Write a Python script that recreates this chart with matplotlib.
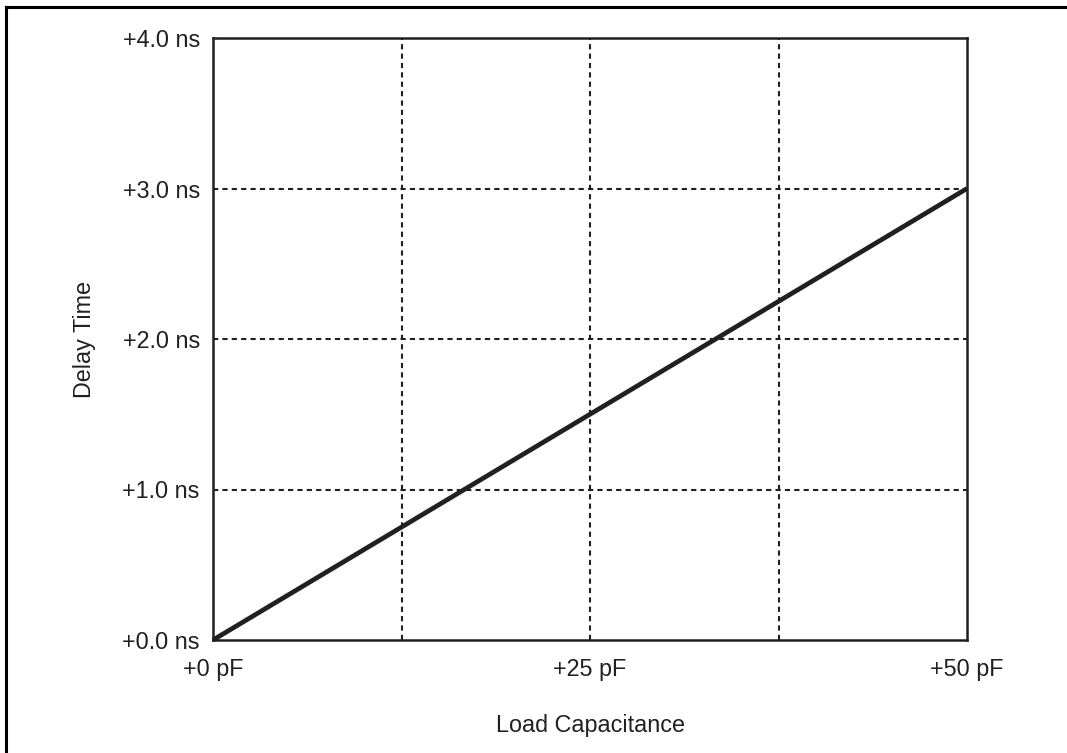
import matplotlib.pyplot as plt
from matplotlib.lines import Line2D

plt.rcParams['font.family'] = ['Liberation Sans', 'DejaVu Sans']

# data
load_pf = [0, 50]
delay_ns = [0.0, 3.0]
x_ticks = [0, 25, 50]
x_labels = ['+0 pF', '+25 pF', '+50 pF']
x_grid = [12.5, 25, 37.5]
y_ticks = [0, 1, 2, 3, 4]
y_labels = ['+0.0 ns', '+1.0 ns', '+2.0 ns', '+3.0 ns', '+4.0 ns']

ink = '#231f20'
fs = 16.8

fig = plt.figure(figsize=(10.67, 7.53), dpi=100)
ax = fig.add_axes([213 / 1067, 1 - 640 / 753, (967 - 213) / 1067, (640 - 38) / 753])

for xv in x_grid:
    ax.axvline(xv, color=ink, lw=1.5, ls=(0, (2.5, 2)), zorder=1)
for yv in y_ticks[1:-1]:
    ax.axhline(yv, color=ink, lw=1.5, ls=(0, (2.5, 2)), zorder=1)

ax.plot(load_pf, delay_ns, color=ink, lw=3.4, solid_capstyle='butt', zorder=3, clip_on=False)

ax.set_xlim(0, 50)
ax.set_ylim(0, 4)
ax.set_xticks(x_ticks, x_labels)
ax.set_yticks(y_ticks, y_labels)
ax.tick_params(length=0, labelsize=fs, colors=ink)
ax.tick_params(axis='y', pad=9.5)
ax.tick_params(axis='x', pad=13)
for s in ax.spines.values():
    s.set_linewidth(1.8)
    s.set_color(ink)

ax.set_xlabel('Load Capacitance', fontsize=fs, color=ink, labelpad=24)
ax.set_ylabel('Delay Time', fontsize=fs, color=ink, labelpad=19)

# outer frame (top and left edges only)
fig.add_artist(Line2D([6 / 1067, 6 / 1067], [0, 1 - 7 / 753], transform=fig.transFigure, color='black', lw=2.2))
fig.add_artist(Line2D([6 / 1067, 1], [1 - 7 / 753, 1 - 7 / 753], transform=fig.transFigure, color='black', lw=2.2))

fig.savefig('out.png', dpi=100)
